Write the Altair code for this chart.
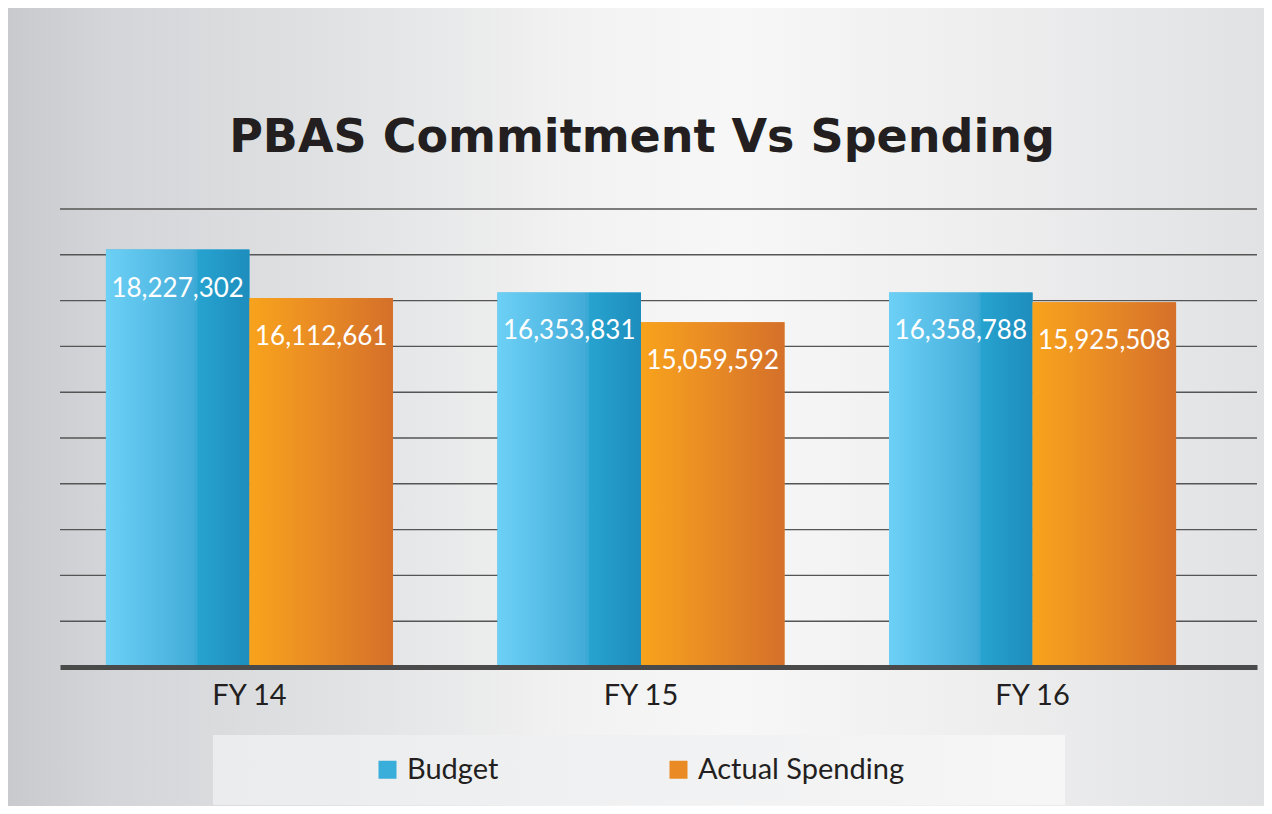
import altair as alt
import pandas as pd

# ---- data ----
title_text = "PBAS Commitment Vs Spending"
years = ["FY 14", "FY 15", "FY 16"]
series = ["Budget", "Actual Spending"]
budget = [18227302, 16353831, 16358788]
actual = [16112661, 15059592, 15925508]
grid_values = [2e6, 4e6, 6e6, 8e6, 10e6, 12e6, 14e6, 16e6, 18e6, 20e6]

rows = []
for i, y in enumerate(years):
    rows.append({"year": y, "series": series[0], "value": budget[i]})
    rows.append({"year": y, "series": series[1], "value": actual[i]})
df = pd.DataFrame(rows)
grid_df = pd.DataFrame({"g": grid_values})
one = pd.DataFrame({"a": [0]})

W, H = 1197, 458
FONT = "Lato, Open Sans, sans-serif"

xscale = alt.Scale(domain=years, paddingInner=0.267, paddingOuter=0.162, align=0.362)
oscale = alt.Scale(domain=series, paddingInner=0, paddingOuter=0)
yscale = alt.Scale(domain=[0, 20e6], nice=False, zero=True)

x_enc = alt.X("year:N", scale=xscale, sort=years,
              axis=alt.Axis(title=None, labelFont=FONT, labelFontSize=29,
                            labelColor="#231f20", ticks=False, tickSize=0,
                            domainColor="#4a4a4a", domainWidth=5,
                            labelPadding=37, labelBaseline="alphabetic",
                            labelAngle=0, grid=False, zindex=1))
xo_enc = alt.XOffset("series:N", scale=oscale, sort=series)
y_enc = alt.Y("value:Q", scale=yscale, axis=None)

bg_grad = alt.Gradient(
    gradient="linear", x1=0, x2=1, y1=0, y2=0,
    stops=[
        alt.GradientStop(offset=0.0, color="#c9cacd"),
        alt.GradientStop(offset=0.08, color="#d4d5d8"),
        alt.GradientStop(offset=0.25, color="#e0e1e3"),
        alt.GradientStop(offset=0.45, color="#f2f2f2"),
        alt.GradientStop(offset=0.58, color="#f7f7f7"),
        alt.GradientStop(offset=0.8, color="#ededee"),
        alt.GradientStop(offset=1.0, color="#e1e2e4"),
    ],
)
background = alt.Chart(one).mark_rect(fill=bg_grad).encode(
    x=alt.value(-52), x2=alt.value(1204), y=alt.value(-201), y2=alt.value(597)
)

legend_grad = alt.Gradient(
    gradient="linear", x1=0, x2=1, y1=0, y2=0,
    stops=[
        alt.GradientStop(offset=0.0, color="#ebeced"),
        alt.GradientStop(offset=1.0, color="#f6f6f7"),
    ],
)
legend_box = alt.Chart(one).mark_rect(fill=legend_grad).encode(
    x=alt.value(153), x2=alt.value(1005), y=alt.value(526), y2=alt.value(596)
)

title = alt.Chart(one).mark_text(
    text=title_text, font="DejaVu Sans", fontSize=46, fontWeight="bold",
    color="#231f20", align="center", baseline="alphabetic"
).encode(x=alt.value(582), y=alt.value(-57))

grid = alt.Chart(grid_df).mark_rule(color="#555555", strokeWidth=1.4).encode(
    y=alt.Y("g:Q", scale=yscale, axis=None)
)

solid = alt.Chart(df).mark_bar(strokeWidth=0).encode(
    x=x_enc, xOffset=xo_enc, y=y_enc,
    color=alt.Color("series:N", sort=series,
                    scale=alt.Scale(domain=series, range=["#3aaedb", "#e98a24"]),
                    legend=alt.Legend(title=None, orient="none", legendX=313, legendY=546,
                                      direction="horizontal", symbolType="square",
                                      symbolSize=324, symbolStrokeWidth=0,
                                      labelFont=FONT, labelFontSize=29,
                                      labelColor="#231f20", labelOffset=5,
                                      columnPadding=165, padding=0, labelLimit=400)),
)

blue_grad = alt.Gradient(
    gradient="linear", x1=0, x2=1, y1=0, y2=0,
    stops=[
        alt.GradientStop(offset=0.0, color="#6dd0f6"),
        alt.GradientStop(offset=0.3, color="#58bfe8"),
        alt.GradientStop(offset=0.6, color="#44acd9"),
        alt.GradientStop(offset=0.615, color="#41abd7"),
        alt.GradientStop(offset=0.62, color="#3aa9d5"),
        alt.GradientStop(offset=0.635, color="#3aa9d5"),
        alt.GradientStop(offset=0.64, color="#27a3d0"),
        alt.GradientStop(offset=1.0, color="#1d8dbd"),
    ],
)
orange_grad = alt.Gradient(
    gradient="linear", x1=0, x2=1, y1=0, y2=0,
    stops=[
        alt.GradientStop(offset=0.0, color="#f8a31c"),
        alt.GradientStop(offset=0.5, color="#e88a25"),
        alt.GradientStop(offset=1.0, color="#d4702a"),
    ],
)

bars_b = alt.Chart(df).transform_filter(alt.datum.series == "Budget").mark_bar(
    fill=blue_grad, strokeWidth=0
).encode(x=x_enc, xOffset=xo_enc, y=y_enc)

bars_a = alt.Chart(df).transform_filter(alt.datum.series == "Actual Spending").mark_bar(
    fill=orange_grad, strokeWidth=0
).encode(x=x_enc, xOffset=xo_enc, y=y_enc)

labels = alt.Chart(df).mark_text(
    font=FONT, fontSize=26, color="white", baseline="alphabetic", align="center", dy=47
).encode(x=x_enc, xOffset=xo_enc, y=y_enc, text=alt.Text("value:Q", format=",d"))

chart = alt.layer(background, legend_box, title, grid, solid, bars_b, bars_a, labels).properties(
    width=W, height=H,
    autosize=alt.AutoSizeParams(type="none"),
    padding={"left": 52, "top": 201, "right": 7, "bottom": 139},
).configure(background="#f7f6f5").configure_view(stroke=None)

chart.save("out.html", embed_options={"renderer": "svg", "actions": False})
